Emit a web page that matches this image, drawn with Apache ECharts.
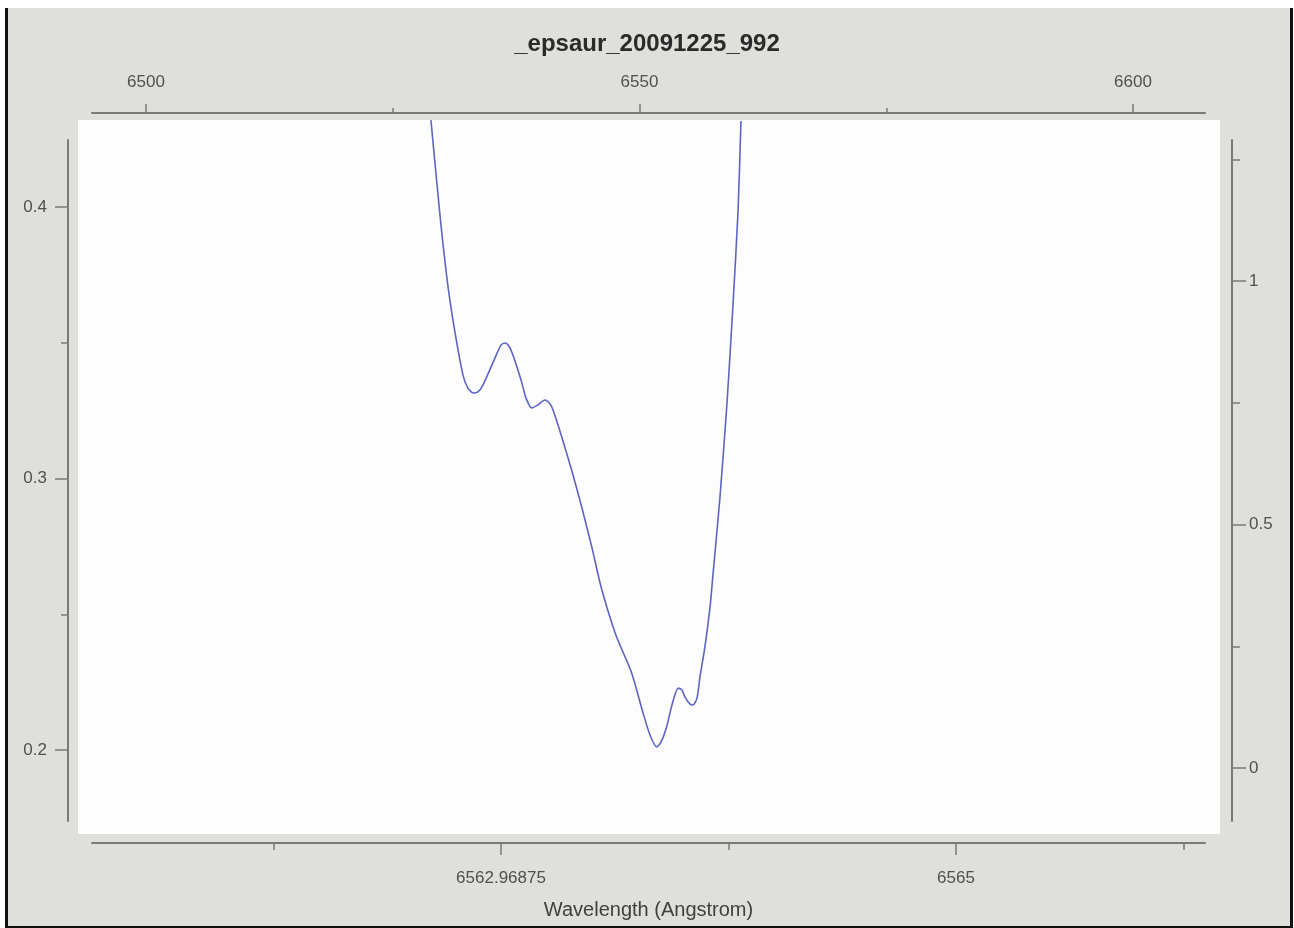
<!DOCTYPE html>
<html>
<head>
<meta charset="utf-8">
<script src="https://cdn.jsdelivr.net/npm/echarts@6/dist/echarts.min.js"></script>
<style>
html,body{margin:0;padding:0;background:#fff;}
#chart{width:1294px;height:928px;}
</style>
</head>
<body>
<div id="chart"></div>
<script>
// ---- data ----
const TITLE = '_epsaur_20091225_992';
const X_NAME = 'Wavelength (Angstrom)';
const wavelength = [
  6562.656, 6562.682, 6562.704, 6562.733, 6562.763, 6562.799, 6562.821, 6562.845,
  6562.866, 6562.888, 6562.942, 6562.969, 6562.987, 6563.004, 6563.022, 6563.061,
  6563.080, 6563.106, 6563.134, 6563.165, 6563.188, 6563.201, 6563.240, 6563.284,
  6563.329, 6563.374, 6563.411, 6563.441, 6563.485, 6563.552, 6563.603, 6563.634,
  6563.664, 6563.683, 6563.708, 6563.732, 6563.760, 6563.777, 6563.790, 6563.813,
  6563.826, 6563.844, 6563.857, 6563.879, 6563.902, 6563.915, 6563.946, 6563.978,
  6564.004, 6564.027, 6564.040
];
const flux = [
  0.4320, 0.4092, 0.3908, 0.3702, 0.3540, 0.3381, 0.3333, 0.3315,
  0.3319, 0.3344, 0.3444, 0.3492, 0.3499, 0.3488, 0.3455, 0.3355,
  0.3297, 0.3260, 0.3271, 0.3289, 0.3274, 0.3252, 0.3153, 0.3031,
  0.2895, 0.2748, 0.2615, 0.2527, 0.2416, 0.2284, 0.2136, 0.2055,
  0.2011, 0.2029, 0.2085, 0.2166, 0.2228, 0.2221, 0.2195, 0.2169,
  0.2166, 0.2192, 0.2269, 0.2379, 0.2527, 0.2645, 0.2928, 0.3282,
  0.3635, 0.3985, 0.4317
];
const bottomMajorTicks = [6562.96875, 6565];
const bottomMinorTicks = [6561.953125, 6563.984375, 6566.015625];
const topMajorTicks = [6500, 6550, 6600];
const topMinorTicks = [6525, 6575];
const leftMajorTicks = [0.2, 0.3, 0.4];
const leftMinorTicks = [0.25, 0.35];
const rightMajorTicks = [0, 0.5, 1];
const rightMinorTicks = [0.25, 0.75, 1.25];

// ---- layout (pixels) ----
const W = 1294, H = 928;
const AX = {left: 92, right: 1205, top: 113, bottom: 843};     // horizontal axes extent
const AY = {left: 68, right: 1232, top: 140, bottom: 821};     // vertical axes extent
const PL = {left: 78, right: 1220, top: 120, bottom: 834};     // white plot area
// scale anchors: pixel position of one tick and pixels per unit
const BOT = {px: 501, v: 6562.96875, k: 224};
const TOP = {px: 146, v: 6500, k: 9.87};
const LEFT = {px: 207, v: 0.4, k: 2715};
const RIGHT = {px: 768, v: 0, k: 487};
function hRange(s, a, b) { return [s.v + (a - s.px) / s.k, s.v + (b - s.px) / s.k]; }
function vRange(s, top, bot) { return [s.v - (bot - s.px) / s.k, s.v - (top - s.px) / s.k]; }

const botR = hRange(BOT, AX.left, AX.right);
const topR = hRange(TOP, AX.left, AX.right);
const leftR = vRange(LEFT, AY.top, AY.bottom);
const rightR = vRange(RIGHT, AY.top, AY.bottom);
const plotX = hRange(BOT, PL.left, PL.right);
const plotY = vRange(LEFT, PL.top, PL.bottom);

const FONT = 'Liberation Sans';
const AXCOL = '#7a7a7a';
const LBLCOL = '#505050';
const lineStyle = {color: AXCOL, width: 2};
function fmt(v) { return String(+v.toFixed(6)); }

const grids = [], xAxes = [], yAxes = [];
function gridOf(rect, extra) {
  grids.push(Object.assign({left: rect.left, right: W - rect.right, top: rect.top,
                            bottom: H - rect.bottom, show: false}, extra || {}));
  return grids.length - 1;
}
function axisCfg(pos, r, major, minor, isMajor, len, margin) {
  return {
    type: 'value', position: pos, min: r[0], max: r[1],
    axisLine: {show: isMajor, onZero: false, lineStyle: lineStyle},
    splitLine: {show: false},
    axisTick: {show: true, length: len, customValues: isMajor ? major : minor,
               lineStyle: {color: AXCOL, width: 1.5}},
    axisLabel: {show: isMajor, customValues: major, formatter: fmt, margin: margin,
                color: LBLCOL, fontFamily: FONT, fontSize: 17},
    silent: true
  };
}
function addH(pos, r, major, minor, isMajor, len, margin, extra) {
  const g = gridOf(AX);
  xAxes.push(Object.assign(axisCfg(pos, r, major, minor, isMajor, len, margin), {gridIndex: g}, extra || {}));
  yAxes.push({type: 'value', gridIndex: g, show: false, min: 0, max: 1});
}
function addV(pos, r, major, minor, isMajor, len, margin) {
  const g = gridOf(AY);
  yAxes.push(Object.assign(axisCfg(pos, r, major, minor, isMajor, len, margin), {gridIndex: g}));
  xAxes.push({type: 'value', gridIndex: g, show: false, min: 0, max: 1});
}

addH('top', topR, topMajorTicks, topMinorTicks, true, 9, 22);
addH('top', topR, topMajorTicks, topMinorTicks, false, 5, 22);
addH('bottom', botR, bottomMajorTicks, bottomMinorTicks, true, 12, 27, {
  name: X_NAME, nameLocation: 'middle', nameGap: 57,
  nameTextStyle: {color: '#404040', fontFamily: FONT, fontSize: 20}
});
addH('bottom', botR, bottomMajorTicks, bottomMinorTicks, false, 7, 27);
addV('left', leftR, leftMajorTicks, leftMinorTicks, true, 13, 21);
addV('left', leftR, leftMajorTicks, leftMinorTicks, false, 7, 21);
addV('right', rightR, rightMajorTicks, rightMinorTicks, true, 14, 17);
addV('right', rightR, rightMajorTicks, rightMinorTicks, false, 8, 17);

const plotGrid = gridOf(PL, {show: true, backgroundColor: '#fdfdfd', borderWidth: 0, z: -1});
xAxes.push({type: 'value', gridIndex: plotGrid, show: false, min: plotX[0], max: plotX[1]});
yAxes.push({type: 'value', gridIndex: plotGrid, show: false, min: plotY[0], max: plotY[1]});
const plotAxis = xAxes.length - 1;

const chart = echarts.init(document.getElementById('chart'), null, {renderer: 'canvas'});
chart.setOption({
  animation: false,
  backgroundColor: '#dfdfdb',
  title: {
    text: TITLE, left: 'center', top: 27,
    textStyle: {fontFamily: FONT, fontWeight: 'bold', fontSize: 24, color: '#2a2a2a'}
  },
  grid: grids,
  xAxis: xAxes,
  yAxis: yAxes,
  graphic: [
    {type: 'rect', shape: {x: 0, y: 0, width: W, height: 8}, style: {fill: '#fff'}, silent: true},
    {type: 'rect', shape: {x: 0, y: 0, width: 5, height: H}, style: {fill: '#fff'}, silent: true},
    {type: 'rect', shape: {x: 5, y: 8, width: 3, height: H - 8}, style: {fill: '#111'}, silent: true},
    {type: 'rect', shape: {x: W - 4, y: 8, width: 3, height: H - 8}, style: {fill: '#111'}, silent: true},
    {type: 'rect', shape: {x: W - 1, y: 0, width: 1, height: H}, style: {fill: '#fff'}, silent: true},
    {type: 'rect', shape: {x: 5, y: H - 2, width: W - 6, height: 2}, style: {fill: '#111'}, silent: true}
  ],
  series: [{
    type: 'line', xAxisIndex: plotAxis, yAxisIndex: plotAxis,
    data: wavelength.map((w, i) => [w, flux[i]]),
    showSymbol: false, smooth: 0.25, clip: true,
    lineStyle: {color: '#5c64c4', width: 1.6},
    silent: true
  }]
});
</script>
</body>
</html>
